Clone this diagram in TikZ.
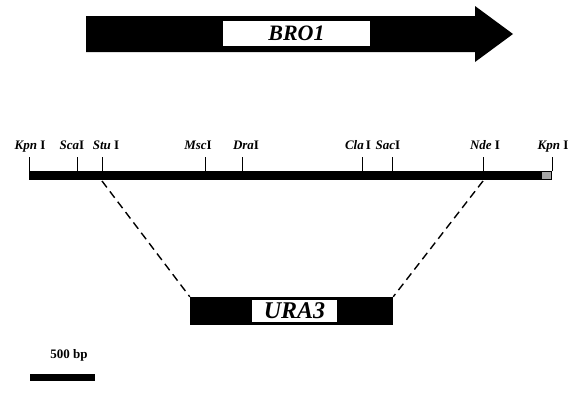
\documentclass[tikz,border=0pt]{standalone}
\usepackage{fontspec}
\setmainfont{Liberation Serif}
\usepackage{tikz}
\usetikzlibrary{positioning}
\tikzset{
    site/.style = {anchor=base, inner sep=0pt,
                        font=\fontsize{13}{13}\selectfont\bfseries},
    genebox/.style = {rectangle, fill=white, inner sep=0pt,
                        font=\bfseries\itshape},
    mapbar/.style = {rectangle, fill=black, inner sep=0pt}
}

\begin{document}
\begin{tikzpicture}[x=1pt,y=-1pt]
			\useasboundingbox (0,0) rectangle (569,408);
			% BRO1 arrow
			\fill (86,16) -- (475,16) -- (475,6) -- (513,34) -- (475,62) -- (475,52) -- (86,52) -- cycle;
			\node (bro) [genebox, minimum width=147pt, minimum height=25pt,
				font=\fontsize{22}{22}\selectfont\bfseries\itshape] at (296.5,33.5) {BRO1};
			% restriction map
			\node (map) [mapbar, minimum width=523pt, minimum height=9pt] at (290.5,175.5) {};
			\fill[black!35] (542,172) rectangle (551,179);
			\foreach \tx/\lx/\lab in {29/30/{\textit{Kpn} I}, 77/72/{\textit{Sca}I},
				102/106/{\textit{Stu} I}, 205/198/{\textit{Msc}I}, 242/246/{\textit{Dra}I},
				362/358/{\textit{Cla}\,I}, 392/388/{\textit{Sac}I}, 483/485/{\textit{Nde} I},
				552/553/{\textit{Kpn} I}}{
				\coordinate (t\tx) at (\tx,171);
				\draw[line width=0.8pt] (t\tx) -- ++(0,-14);
				\node (lab\tx) [site] at (\lx,149) {\lab};
			}
			% URA3 insert
			\node (ura) [mapbar, minimum width=203pt, minimum height=28pt] at (291.5,311) {};
			\node (uralab) [genebox, minimum width=85pt, minimum height=22pt,
				font=\fontsize{24}{24}\selectfont\bfseries\itshape] at (294.5,311) {URA3};
			\coordinate (stu) at (102,181);
			\coordinate (nde) at (483,181);
			\draw[line width=1.4pt, dash pattern=on 8pt off 5pt] (stu) -- (ura.north west);
			\draw[line width=1.4pt, dash pattern=on 8pt off 5pt] (nde) -- (ura.north east);
			% scale bar
			\node (bp) [font=\fontsize{13}{13}\selectfont\bfseries] at (69,355) {500 bp};
			\node (scale) [mapbar, minimum width=65pt, minimum height=7pt] at (62.5,377.5) {};
		\end{tikzpicture}
\end{document}
